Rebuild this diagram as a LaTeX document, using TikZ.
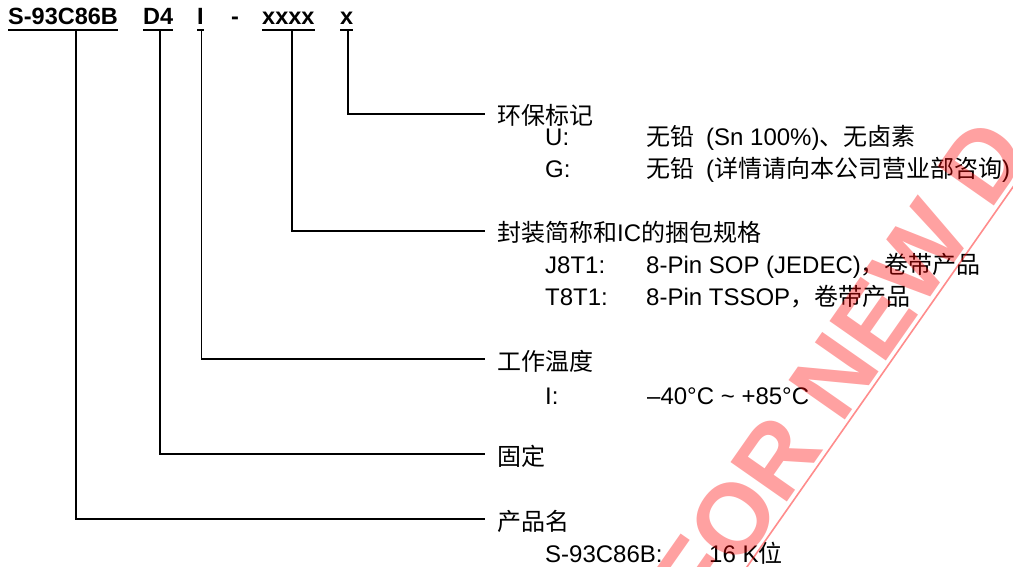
\documentclass[tikz,border=0pt]{standalone}
\usepackage{fontspec}
\setmainfont{Liberation Sans}
\newfontfamily\cjk{Noto Sans CJK SC}
\usetikzlibrary{calc}
\definecolor{wmred}{RGB}{255,0,0}
\tikzset{
  txt/.style={inner sep=0pt, anchor=base west, font=\fontsize{24}{28}\selectfont},
  hdr/.style={inner sep=0pt, anchor=base west, font=\fontsize{23.5}{28}\selectfont\bfseries},
  conn/.style={line width=1.6pt, line join=miter},
  uline/.style={line width=2pt},
  wmtext/.style={inner sep=0pt, anchor=base west, text=wmred, text opacity=0.37, font=\fontsize{100}{110}\selectfont\bfseries},
  wmline/.style={draw=wmred, draw opacity=0.45, line width=1.6pt}
}
\begin{document}
\begin{tikzpicture}[x=1pt,y=-1pt]
\useasboundingbox (0,0) rectangle (1013,567);
\fill[white] (0,0) rectangle (1013,567);

% header
\node[hdr] (hS) at (8,25) {S-93C86B};
\node[hdr] (hD) at (143,25) {D4};
\node[hdr] (hI) at (197,25) {I};
\node[hdr] (hdash) at (231,25) {-};
\node[hdr] (hX) at (262,25) {xxxx};
\node[hdr] (hx) at (340,25) {x};
\foreach \n in {hS,hD,hI,hX,hx}
  \draw[uline] ([yshift=-5pt]\n.base west) -- ([yshift=-5pt]\n.base east);

% connector tops and ends
\coordinate (t1) at (76,30);
\coordinate (t2) at (160,30);
\coordinate (t3) at (201.5,30);
\coordinate (t4) at (292,30);
\coordinate (t5) at (348,30);
\coordinate (e5) at (485,114);
\coordinate (e4) at (485,231);
\coordinate (e3) at (485,359);
\coordinate (e2) at (485,454);
\coordinate (e1) at (485,519);
\draw[conn] (t5) |- (e5);
\draw[conn] (t4) |- (e4);
\draw[conn] (t3) |- (e3);
\draw[conn] (t2) |- (e2);
\draw[conn] (t1) |- (e1);

% headings
\node[txt] (l5) at (497,125) {\cjk 环保标记};
\node[txt] (l4) at (497,241) {{\cjk 封装简称和}IC{\cjk 的捆包规格}};
\node[txt] (l3) at (497,370) {\cjk 工作温度};
\node[txt] (l2) at (497,465) {\cjk 固定};
\node[txt] (l1) at (497,530) {\cjk 产品名};

% sub items
\node[txt] (kU) at (545,146) {U:};
\node[txt] (vU) at (646,146) {{\cjk 无铅}\hspace{0.5em}(Sn 100\%){\cjk 、无卤素}};
\node[txt] (kG) at (545,178) {G:};
\node[txt] (vG) at (646,178) {{\cjk 无铅}\hspace{0.5em}({\cjk 详情请向本公司营业部咨询})};
\node[txt] (kJ) at (545,273) {J8T1:};
\node[txt] (vJ) at (646,273) {8-Pin SOP (JEDEC){\cjk ，卷带产品}};
\node[txt] (kT) at (545,305) {T8T1:};
\node[txt] (vT) at (646,305) {8-Pin TSSOP{\cjk ，卷带产品}};
\node[txt] (kI) at (545,404) {I:};
\node[txt] (vI) at (647,404) {–40°C \textasciitilde{} +85°C};
\node[txt] (kS) at (545,562) {S-93C86B:};
\node[txt] (vS) at (709,562) {16 K{\cjk 位}};

% watermark
\begin{scope}
\clip (0,0) rectangle (1013,567);
\coordinate (wl1) at (735,584);
\coordinate (wl2) at (1034,157);
\draw[wmline] (wl1) -- (wl2);
\node[wmtext, rotate=55] (wm) at (704,621) {FOR NEW D};
\end{scope}
\end{tikzpicture}
\end{document}
